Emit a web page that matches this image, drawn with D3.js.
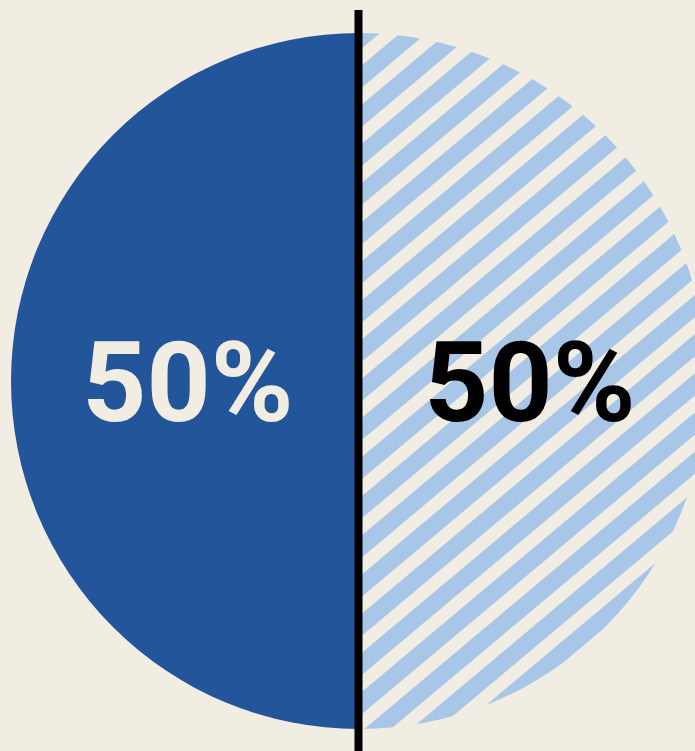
<!DOCTYPE html>
<html>
<head>
<meta charset="utf-8">
<script src="https://cdn.jsdelivr.net/npm/d3@7"></script>
<style>
  html, body { margin: 0; padding: 0; background: #f1ede2; }
</style>
</head>
<body>
<div id="chart"></div>
<script>
// slices, left half first (solid), then right half (hatched)
var categories = ["Solid", "Hatched"];
var values = [50, 50];
var labels = ["50%", "50%"];

var width = 695, height = 751;
var cx = 359, cy = 381, radius = 348;

var svg = d3.select("#chart")
  .append("svg")
  .attr("width", width)
  .attr("height", height)
  .style("background-color", "#f1ede2");

var defs = svg.append("defs");
var pat = defs.append("pattern")
  .attr("id", "stripes")
  .attr("patternUnits", "userSpaceOnUse")
  .attr("width", 30)
  .attr("height", 30)
  .attr("patternTransform", "rotate(50)");
pat.append("rect").attr("width", 30).attr("height", 30).attr("fill", "#f1ede2");
pat.append("rect").attr("width", 17).attr("height", 30).attr("fill", "#a8c6e8");

var pie = d3.pie()
  .sort(null)
  .startAngle(-Math.PI)
  .endAngle(Math.PI)
  .value(function(d) { return d; });

var arc = d3.arc().innerRadius(0).outerRadius(radius);
var labelArc = d3.arc().innerRadius(171).outerRadius(171);

var g = svg.append("g")
  .attr("transform", "translate(" + cx + "," + cy + ")");

var arcs = pie(values);

g.selectAll("path")
  .data(arcs)
  .enter()
  .append("path")
  .attr("d", arc)
  .attr("fill", function(d, i) { return i == 0 ? "#22559a" : "url(#stripes)"; });

g.selectAll("text")
  .data(arcs)
  .enter()
  .append("text")
  .attr("x", function(d) { return labelArc.centroid(d)[0]; })
  .attr("y", function(d) { return labelArc.centroid(d)[1]; })
  .attr("dy", "0.36em")
  .attr("text-anchor", "middle")
  .attr("font-family", "Roboto, 'Liberation Sans', sans-serif")
  .attr("font-weight", "bold")
  .attr("font-size", "112px")
  .attr("fill", function(d, i) { return i == 0 ? "#f1ede2" : "#000000"; })
  .text(function(d, i) { return labels[i]; });

// divider line
svg.append("line")
  .attr("x1", 358.5).attr("x2", 358.5)
  .attr("y1", 10).attr("y2", height)
  .attr("stroke", "#000")
  .attr("stroke-width", 8);
</script>
</body>
</html>
